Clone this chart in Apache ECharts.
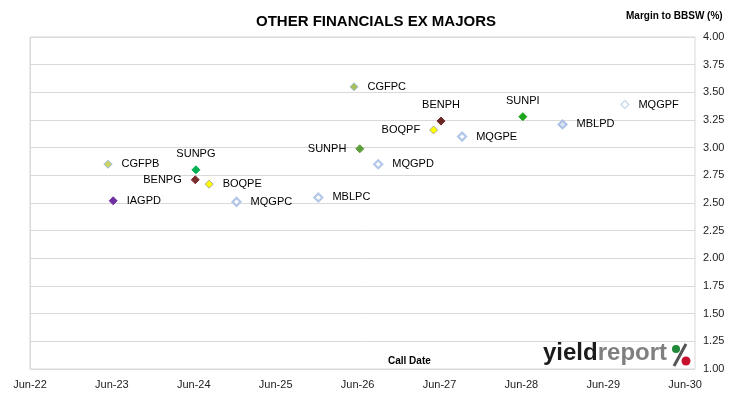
<!DOCTYPE html>
<html>
<head>
<meta charset="utf-8">
<script src="https://cdn.jsdelivr.net/npm/echarts@6/dist/echarts.min.js"></script>
<style>
  html, body { margin: 0; padding: 0; background: #fff; }
  #chart { width: 730px; height: 399px; }
</style>
</head>
<body>
<div id="chart"></div>
<script>
// securities, call dates and margins to BBSW (%)
const names = ['CGFPB', 'IAGPD', 'SUNPG', 'BENPG', 'BOQPE', 'MQGPC', 'MBLPC', 'CGFPC',
  'SUNPH', 'MQGPD', 'BOQPF', 'BENPH', 'MQGPE', 'SUNPI', 'MBLPD', 'MQGPF']
const callDates = ['2023-05-15', '2023-06-07', '2024-06-10', '2024-06-07', '2024-08-08', '2024-12-08',
  '2025-12-08', '2026-05-16', '2026-06-11', '2026-09-01', '2027-05-06', '2027-06-08',
  '2027-09-10', '2028-06-07', '2028-12-01', '2029-09-05']
const margins = [2.85, 2.52, 2.80, 2.71, 2.67, 2.51, 2.55, 3.55,
  2.99, 2.85, 3.16, 3.24, 3.10, 3.28, 3.21, 3.39]
const xTickLabels = ['Jun-22', 'Jun-23', 'Jun-24', 'Jun-25', 'Jun-26', 'Jun-27', 'Jun-28', 'Jun-29', 'Jun-30']

// marker look per security: fill, border, border width, label side
const looks = {
  CGFPB: ['#cdd463', '#8fb4dc', 1, 'right'],
  IAGPD: ['#7030a0', '#7030a0', 1, 'right'],
  SUNPG: ['#00b050', '#00b050', 1, 'top'],
  BENPG: ['#7b2c2c', '#7b2c2c', 1, 'left'],
  BOQPE: ['#ffff00', '#a8a89a', 1, 'right'],
  MQGPC: ['#ffffff', '#b4c7e7', 2.2, 'right'],
  MBLPC: ['#ffffff', '#b4c7e7', 2.2, 'right'],
  CGFPC: ['#a8bf55', '#9dbde0', 1, 'right'],
  SUNPH: ['#5b9e3a', '#5b9e3a', 1, 'left'],
  MQGPD: ['#ffffff', '#b4c7e7', 2.2, 'right'],
  BOQPF: ['#ffff00', '#a8a89a', 1, 'left'],
  BENPH: ['#6b2626', '#6b2626', 1, 'top'],
  MQGPE: ['#ffffff', '#b4c7e7', 2.2, 'right'],
  SUNPI: ['#1aa51a', '#1aa51a', 1, 'top'],
  MBLPD: ['#dbe5f3', '#a9bfe3', 2, 'right'],
  MQGPF: ['#ffffff', '#c7d6ec', 1.2, 'right']
}

// years since 1 Jun 2022
const base = Date.UTC(2022, 5, 1)
const toYears = (s) => {
  const [y, m, d] = s.split('-').map(Number)
  return (Date.UTC(y, m - 1, d) - base) / (365.25 * 86400000)
}

const font = 'Liberation Sans, Arial, sans-serif'

const points = names.map((n, i) => {
  const lk = looks[n]
  return {
    name: n,
    value: [toYears(callDates[i]), margins[i]],
    itemStyle: { color: lk[0], borderColor: lk[1], borderWidth: lk[2], opacity: 1 },
    label: { position: lk[3], distance: lk[3] === 'top' ? 6 : 9 }
  }
})

const chart = echarts.init(document.getElementById('chart'))
chart.setOption({
  animation: false,
  textStyle: { fontFamily: font },
  title: {
    text: 'OTHER FINANCIALS EX MAJORS',
    left: 371, top: 9, textAlign: 'center',
    textStyle: { fontSize: 15, fontWeight: 'bold', color: '#000', fontFamily: font }
  },
  grid: {
    left: 30, right: 35, top: 37, bottom: 30,
    show: true, borderColor: '#d9d9d9', borderWidth: 1
  },
  xAxis: {
    type: 'value', min: 0, max: 8.12, interval: 1,
    splitLine: { show: false },
    axisLine: { show: false },
    axisTick: { show: false },
    axisLabel: {
      showMaxLabel: false, margin: 10, fontSize: 11, color: '#222',
      formatter: (v) => xTickLabels[Math.round(v)] || ''
    }
  },
  yAxis: {
    type: 'value', position: 'right', min: 1, max: 4, interval: 0.25,
    splitLine: { lineStyle: { color: '#d9d9d9' } },
    axisLine: { show: true, lineStyle: { color: '#d9d9d9' } },
    axisTick: { show: true, length: 4, lineStyle: { color: '#d9d9d9' } },
    axisLabel: { margin: 8, fontSize: 11, color: '#222', formatter: (v) => v.toFixed(2) }
  },
  series: [{
    type: 'scatter',
    symbol: 'diamond',
    symbolSize: 8,
    itemStyle: { opacity: 1 },
    emphasis: { disabled: true },
    data: points,
    label: {
      show: true, formatter: '{b}', fontSize: 11, color: '#000', fontFamily: font
    }
  }],
  graphic: [
    { type: 'text', left: 626, top: 11,
      style: { text: 'Margin to BBSW (%)', font: 'bold 10px ' + font, fill: '#000' } },
    { type: 'text', left: 388, top: 356,
      style: { text: 'Call Date', font: 'bold 10px ' + font, fill: '#000' } },
    { type: 'text', left: 543, top: 341,
      style: {
        text: '{a|yield}{b|report}',
        rich: {
          a: { font: 'bold 24px ' + font, fill: '#1b1b1b' },
          b: { font: 'bold 24px ' + font, fill: '#7f7f7f' }
        }
      } },
    { type: 'line', shape: { x1: 674, y1: 366, x2: 686, y2: 344 },
      style: { stroke: '#555', lineWidth: 3 } },
    { type: 'circle', shape: { cx: 676, cy: 349, r: 4 }, style: { fill: '#1f8a3a' } },
    { type: 'circle', shape: { cx: 686, cy: 361, r: 4.5 }, style: { fill: '#c8102e' } }
  ]
})
</script>
</body>
</html>
